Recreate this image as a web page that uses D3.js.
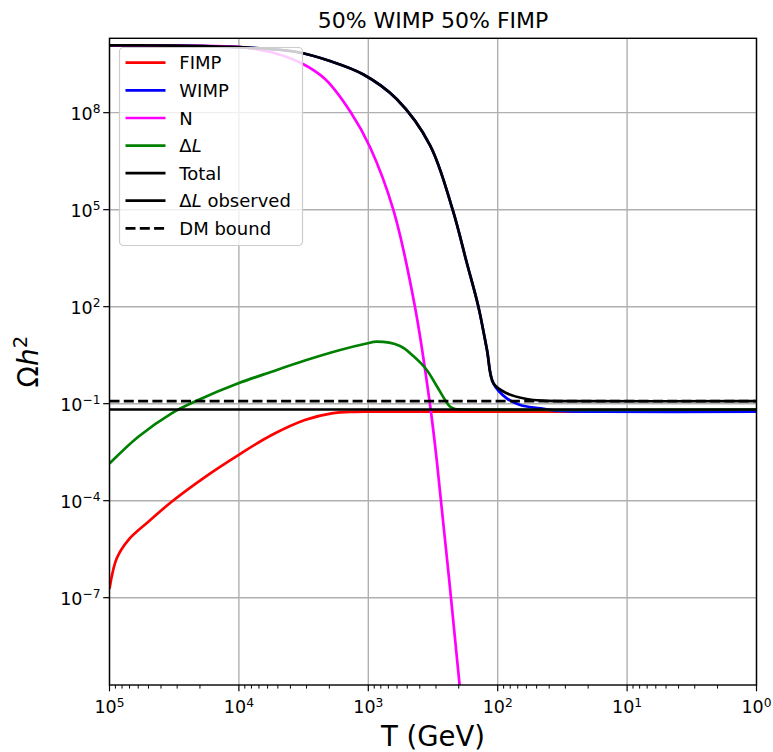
<!DOCTYPE html>
<html>
<head>
<meta charset="utf-8">
<script src="https://cdn.jsdelivr.net/npm/d3@7"></script>
<style>
  html, body { margin: 0; padding: 0; background: #fff; }
  svg { display: block; font-family: "DejaVu Sans", sans-serif; }
</style>
</head>
<body>
<div id="chart"></div>
<script>
// ---------------- data ----------------
const title = "50% WIMP 50% FIMP";

// Total (upper part shared with WIMP)
const totalT = [1e5, 3.12e4, 1.17e4, 6.28e3, 3.57e3, 1.98e3, 1.09e3, 604, 334, 223, 174, 141, 121, 108, 85.1, 59.7, 44.5, 29.3, 1];
const totalY = [1.2e10, 1.19e10, 1.08e10, 9.47e9, 7.53e9, 3.97e9, 1.52e9, 2.65e8, 1.0e7, 1e5, 2.41e3, 100, 4.57, 0.427, 0.209, 0.140, 0.124, 0.12, 0.12];

const wimpT = [1e5, 3.12e4, 1.17e4, 6.28e3, 3.57e3, 1.98e3, 1.09e3, 604, 334, 223, 174, 141, 121, 108, 85.1, 67.1, 47.0, 33.0, 16.2, 1];
const wimpY = [1.2e10, 1.19e10, 1.08e10, 9.47e9, 7.53e9, 3.97e9, 1.52e9, 2.65e8, 1.0e7, 1e5, 2.41e3, 100, 4.57, 0.427, 0.1466, 0.091, 0.0719, 0.0593, 0.0566, 0.0565];

const fimpT = [1e5, 8.79e4, 7.16e4, 5.01e4, 3.31e4, 1.83e4, 1.01e4, 5.58e3, 3.09e3, 1.92e3, 1.27e3, 800, 1];
const fimpY = [1.9e-7, 1.65e-6, 6.07e-6, 2.23e-5, 9.29e-5, 5.39e-4, 2.58e-3, 0.01074, 0.0313, 0.0504, 0.0562, 0.0565, 0.0565];

const nT = [1e5, 3.12e4, 1.02e4, 5.75e3, 3.37e3, 2.16e3, 1.36e3, 971, 641, 436, 334, 296, 197, 163];
const nY = [1.2e10, 1.17e10, 1.08e10, 7.53e9, 3.57e9, 1.10e9, 1e8, 8.69e6, 1e5, 100, 0.098, 1.81e-3, 2e-10, 5.5e-14];

const dlT = [1e5, 5.99e4, 3.31e4, 2.06e4, 1.01e4, 5.58e3, 3.09e3, 1.65e3, 1.03e3, 861, 569, 449, 358, 296, 255, 234, 214, 189, 1];
const dlY = [1.41e-3, 9.5e-3, 0.0504, 0.130, 0.426, 0.975, 2.16, 4.57, 7.26, 8.26, 6.08, 2.98, 1.18, 0.352, 0.130, 0.0817, 0.0684, 0.066, 0.066];

const dlObserved = 0.066;
const dmBound = 0.12;

const xTickValues = [1e5, 1e4, 1e3, 1e2, 1e1, 1e0];
const xTickExps = ["5", "4", "3", "2", "1", "0"];
const yTickValues = [1e8, 1e5, 1e2, 1e-1, 1e-4, 1e-7];
const yTickExps = ["8", "5", "2", "\u22121", "\u22124", "\u22127"];

const legendLabels = ["FIMP", "WIMP", "N", "\u0394L", "Total", "\u0394L observed", "DM bound"];
const colors = ["#ff0000", "#0000ff", "#ff00ff", "#008000", "#000000", "#000000", "#000000"];

// ---------------- layout ----------------
const W = 773, H = 752;
const L = 109.5, R = 756.5, T = 38.3, B = 685;

const svg = d3.select("#chart").append("svg").attr("width", W).attr("height", H);
svg.append("rect").attr("width", W).attr("height", H).attr("fill", "#fff");

const x = d3.scaleLog().domain([1e5, 1]).range([L, R]);
const y = d3.scaleLog().domain([Math.pow(10, -9.7), Math.pow(10, 10.3)]).range([B, T]);

svg.append("defs").append("clipPath").attr("id", "clip")
  .append("rect").attr("x", L).attr("y", T).attr("width", R - L).attr("height", B - T);

// grid
const grid = svg.append("g");
xTickValues.forEach(v => {
  grid.append("line").attr("x1", x(v)).attr("x2", x(v)).attr("y1", T).attr("y2", B)
    .attr("stroke", "#b0b0b0").attr("stroke-width", 1.4);
});
yTickValues.forEach(v => {
  grid.append("line").attr("x1", L).attr("x2", R).attr("y1", y(v)).attr("y2", y(v))
    .attr("stroke", "#b0b0b0").attr("stroke-width", 1.4);
});

// curves
const plot = svg.append("g").attr("clip-path", "url(#clip)");
const line = d3.line().x(d => x(d[0])).y(d => y(d[1])).curve(d3.curveCatmullRom.alpha(0.5));
const zipT = (a, b) => a.map((t, i) => [t, b[i]]);
const series = [
  [fimpT, fimpY, colors[0]],
  [wimpT, wimpY, colors[1]],
  [nT, nY, colors[2]],
  [dlT, dlY, colors[3]],
  [totalT, totalY, colors[4]]
];
series.forEach(([ts, vs, c]) => {
  plot.append("path").attr("d", line(zipT(ts, vs))).attr("fill", "none")
    .attr("stroke", c).attr("stroke-width", 2.7).attr("stroke-linejoin", "round");
});
plot.append("line").attr("x1", L).attr("x2", R).attr("y1", y(dlObserved)).attr("y2", y(dlObserved))
  .attr("stroke", "#000").attr("stroke-width", 2.7);
plot.append("line").attr("x1", L).attr("x2", R).attr("y1", y(dmBound)).attr("y2", y(dmBound))
  .attr("stroke", "#000").attr("stroke-width", 2.7).attr("stroke-dasharray", "10,4.3");

// axes frame
svg.append("rect").attr("x", L).attr("y", T).attr("width", R - L).attr("height", B - T)
  .attr("fill", "none").attr("stroke", "#000").attr("stroke-width", 1.4);

// ticks
const tickG = svg.append("g").attr("stroke", "#000").attr("stroke-width", 1.2);
xTickValues.forEach(v => {
  tickG.append("line").attr("x1", x(v)).attr("x2", x(v)).attr("y1", B).attr("y2", B + 6.3);
});
const minorX = [];
for (let k = 0; k < 5; k++) for (let m = 2; m <= 9; m++) minorX.push(m * Math.pow(10, k));
minorX.forEach(v => {
  tickG.append("line").attr("x1", x(v)).attr("x2", x(v)).attr("y1", B).attr("y2", B + 3.6)
    .attr("stroke-width", 1.0);
});
yTickValues.forEach(v => {
  tickG.append("line").attr("x1", L - 6.3).attr("x2", L).attr("y1", y(v)).attr("y2", y(v));
});

const FS = 17.5;
xTickValues.forEach((v, i) => {
  const t = svg.append("text").attr("x", x(v)).attr("y", 713.3).attr("text-anchor", "middle")
    .attr("font-size", FS).attr("fill", "#000");
  t.append("tspan").text("10");
  t.append("tspan").attr("dy", -6.5).attr("font-size", FS * 0.7).text(xTickExps[i]);
});
yTickValues.forEach((v, i) => {
  const t = svg.append("text").attr("x", 100.5).attr("y", y(v) + 7).attr("text-anchor", "end")
    .attr("font-size", FS).attr("fill", "#000");
  t.append("tspan").text("10");
  t.append("tspan").attr("dy", -6.5).attr("font-size", FS * 0.7).text(yTickExps[i]);
});

// title & labels
svg.append("text").attr("x", (L + R) / 2).attr("y", 28.3).attr("text-anchor", "middle")
  .attr("font-size", 22).attr("fill", "#000").text(title);
svg.append("text").attr("x", (L + R) / 2).attr("y", 745.5).attr("text-anchor", "middle")
  .attr("font-size", 27.5).attr("fill", "#000").text("T (GeV)");
const yl = svg.append("text").attr("transform", `translate(38,${(T + B) / 2}) rotate(-90)`)
  .attr("text-anchor", "middle").attr("font-size", 28).attr("fill", "#000");
yl.append("tspan").text("\u03A9");
yl.append("tspan").attr("font-style", "italic").text("h");
yl.append("tspan").attr("dy", -11).attr("font-size", 28 * 0.7).text("2");

// legend
const lg = svg.append("g");
lg.append("rect").attr("x", 119.5).attr("y", 47.5).attr("width", 183).attr("height", 198)
  .attr("rx", 4).attr("fill", "#fff").attr("fill-opacity", 0.8)
  .attr("stroke", "#cccccc").attr("stroke-width", 1.2);
const rowY = [62.7, 90.3, 118, 145.6, 173.2, 200.7, 228.3];
legendLabels.forEach((lab, i) => {
  const ly = rowY[i];
  const ln = lg.append("line").attr("x1", 125.5).attr("x2", 165.5).attr("y1", ly).attr("y2", ly)
    .attr("stroke", colors[i]).attr("stroke-width", 2.7);
  if (i === 6) ln.attr("stroke-dasharray", "10,4.3");
  const t = lg.append("text").attr("x", 179.3).attr("y", ly + 6.5).attr("font-size", 18).attr("fill", "#000");
  if (lab.startsWith("\u0394L")) {
    t.append("tspan").text("\u0394");
    t.append("tspan").attr("font-style", "italic").text("L");
    t.append("tspan").text(lab.slice(2));
  } else {
    t.text(lab);
  }
});
</script>
</body>
</html>
